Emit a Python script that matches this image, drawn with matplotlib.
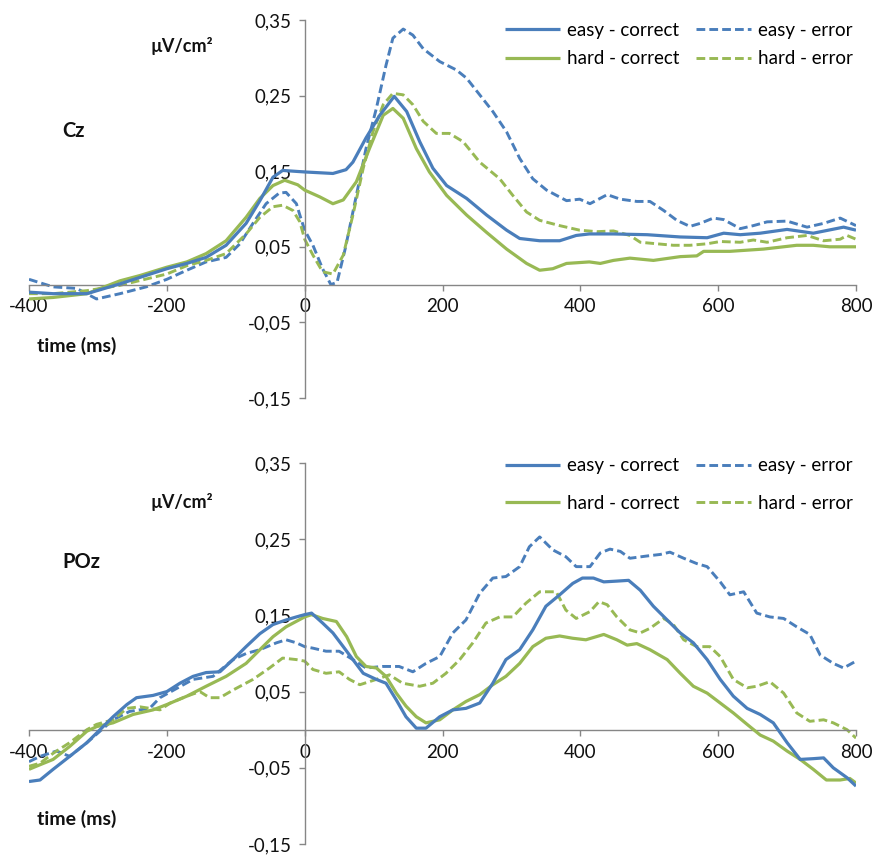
import matplotlib
matplotlib.use("Agg")
import matplotlib.pyplot as plt
from matplotlib.ticker import FuncFormatter

plt.rcParams['font.family'] = ['Lato', 'DejaVu Sans']

# ---------------- Cz ----------------
cz_ec_t = [-400, -365, -316, -268, -200, -171, -143, -114, -85, -65, -46, -32, 0, 41, 60, 70, 89, 109, 130, 148, 167, 186, 206, 235, 264, 293, 312, 341, 370, 394, 413, 448, 497, 545, 584, 608, 632, 661, 700, 738, 782, 800]
cz_ec_v = [-0.010, -0.012, -0.012, 0.001, 0.021, 0.028, 0.036, 0.052, 0.081, 0.111, 0.142, 0.151, 0.149, 0.147, 0.152, 0.162, 0.194, 0.224, 0.249, 0.229, 0.189, 0.154, 0.131, 0.114, 0.092, 0.072, 0.061, 0.058, 0.058, 0.065, 0.067, 0.067, 0.066, 0.063, 0.062, 0.068, 0.066, 0.068, 0.073, 0.068, 0.076, 0.072]

cz_ee_t = [-400, -365, -331, -302, -268, -230, -200, -171, -143, -114, -94, -75, -56, -37, -27, -12, -7, 0, 12, 26, 38, 47, 59, 75, 89, 104, 118, 128, 143, 157, 172, 196, 220, 235, 254, 273, 293, 312, 331, 351, 380, 399, 414, 439, 458, 482, 501, 521, 540, 559, 574, 593, 608, 632, 651, 671, 700, 729, 753, 777, 800]
cz_ee_v = [0.007, -0.003, -0.005, -0.019, -0.012, -0.003, 0.007, 0.019, 0.030, 0.036, 0.054, 0.081, 0.107, 0.121, 0.122, 0.107, 0.092, 0.072, 0.052, 0.021, 0.000, 0.003, 0.048, 0.118, 0.180, 0.233, 0.290, 0.326, 0.338, 0.330, 0.312, 0.295, 0.284, 0.273, 0.251, 0.229, 0.202, 0.167, 0.140, 0.125, 0.111, 0.113, 0.107, 0.119, 0.113, 0.110, 0.110, 0.098, 0.085, 0.077, 0.081, 0.088, 0.086, 0.074, 0.078, 0.083, 0.084, 0.076, 0.081, 0.088, 0.078]

cz_hc_t = [-400, -365, -316, -268, -239, -200, -171, -143, -114, -85, -65, -46, -29, -10, 0, 22, 41, 56, 75, 94, 114, 128, 143, 162, 181, 206, 235, 264, 293, 322, 341, 360, 380, 413, 429, 448, 472, 506, 545, 569, 579, 617, 666, 714, 738, 762, 800]
cz_hc_v = [-0.019, -0.017, -0.012, 0.005, 0.012, 0.023, 0.030, 0.041, 0.058, 0.089, 0.114, 0.131, 0.138, 0.132, 0.125, 0.116, 0.107, 0.112, 0.136, 0.180, 0.224, 0.233, 0.220, 0.180, 0.149, 0.118, 0.092, 0.069, 0.047, 0.028, 0.019, 0.021, 0.028, 0.030, 0.028, 0.032, 0.035, 0.032, 0.037, 0.038, 0.044, 0.044, 0.047, 0.052, 0.052, 0.050, 0.050]

cz_he_t = [-400, -365, -316, -268, -200, -171, -143, -114, -85, -65, -46, -32, -17, -7, 0, 12, 26, 41, 56, 70, 85, 99, 114, 128, 143, 157, 172, 191, 210, 230, 254, 283, 302, 322, 341, 370, 399, 424, 448, 472, 487, 511, 535, 559, 584, 603, 632, 651, 671, 700, 729, 753, 777, 787, 800]
cz_he_v = [-0.012, -0.012, -0.008, -0.001, 0.014, 0.025, 0.032, 0.041, 0.067, 0.089, 0.103, 0.105, 0.098, 0.083, 0.060, 0.039, 0.017, 0.014, 0.039, 0.092, 0.154, 0.202, 0.238, 0.253, 0.251, 0.238, 0.216, 0.200, 0.200, 0.189, 0.162, 0.140, 0.118, 0.096, 0.085, 0.078, 0.072, 0.070, 0.071, 0.065, 0.056, 0.054, 0.052, 0.052, 0.054, 0.057, 0.056, 0.059, 0.056, 0.062, 0.065, 0.058, 0.060, 0.065, 0.060]

# ---------------- POz ----------------
poz_ec_t = [-400, -384, -365, -341, -316, -297, -278, -258, -244, -220, -200, -181, -162, -143, -123, -104, -85, -65, -46, -27, -12, 0, 10, 26, 41, 56, 70, 85, 104, 118, 133, 147, 162, 176, 196, 215, 234, 254, 273, 292, 312, 331, 350, 370, 389, 403, 419, 434, 453, 470, 487, 506, 526, 545, 564, 584, 603, 622, 642, 661, 680, 700, 719, 738, 753, 767, 787, 800]
poz_ec_v = [-0.068, -0.066, -0.052, -0.035, -0.017, 0.000, 0.017, 0.033, 0.042, 0.045, 0.050, 0.061, 0.070, 0.075, 0.076, 0.092, 0.109, 0.126, 0.138, 0.144, 0.148, 0.151, 0.153, 0.140, 0.127, 0.109, 0.092, 0.074, 0.066, 0.061, 0.039, 0.017, 0.002, 0.002, 0.017, 0.026, 0.028, 0.035, 0.061, 0.092, 0.105, 0.131, 0.162, 0.177, 0.192, 0.199, 0.199, 0.194, 0.195, 0.196, 0.183, 0.162, 0.144, 0.127, 0.114, 0.092, 0.066, 0.044, 0.028, 0.020, 0.009, -0.017, -0.039, -0.038, -0.037, -0.050, -0.063, -0.074]

poz_ee_t = [-400, -384, -360, -341, -316, -297, -278, -254, -225, -210, -190, -162, -133, -104, -85, -65, -41, -27, -12, 0, 12, 31, 50, 70, 89, 113, 137, 157, 176, 196, 215, 234, 254, 273, 292, 312, 326, 341, 360, 379, 394, 414, 429, 443, 458, 472, 497, 516, 530, 550, 569, 584, 603, 617, 637, 656, 675, 695, 714, 733, 748, 767, 782, 800]
poz_ee_v = [-0.042, -0.035, -0.028, -0.035, -0.017, -0.002, 0.013, 0.024, 0.028, 0.042, 0.052, 0.066, 0.070, 0.092, 0.100, 0.105, 0.114, 0.118, 0.114, 0.109, 0.107, 0.103, 0.103, 0.092, 0.081, 0.083, 0.083, 0.076, 0.087, 0.096, 0.127, 0.144, 0.179, 0.199, 0.201, 0.214, 0.240, 0.253, 0.236, 0.227, 0.214, 0.214, 0.232, 0.237, 0.234, 0.225, 0.228, 0.230, 0.233, 0.225, 0.218, 0.214, 0.194, 0.177, 0.181, 0.153, 0.148, 0.146, 0.135, 0.125, 0.098, 0.087, 0.081, 0.090]

poz_hc_t = [-400, -384, -365, -341, -316, -302, -278, -249, -220, -200, -171, -143, -114, -85, -65, -46, -27, 0, 10, 26, 46, 61, 75, 89, 104, 118, 133, 147, 162, 176, 196, 215, 234, 254, 273, 292, 312, 331, 350, 370, 389, 408, 434, 453, 468, 482, 501, 526, 545, 564, 584, 603, 622, 642, 661, 680, 700, 719, 738, 757, 777, 791, 800]
poz_hc_v = [-0.052, -0.046, -0.039, -0.022, -0.002, 0.004, 0.009, 0.020, 0.026, 0.033, 0.044, 0.057, 0.070, 0.087, 0.105, 0.122, 0.135, 0.148, 0.151, 0.146, 0.142, 0.122, 0.096, 0.083, 0.081, 0.070, 0.048, 0.031, 0.017, 0.009, 0.013, 0.026, 0.037, 0.046, 0.059, 0.070, 0.087, 0.109, 0.120, 0.123, 0.120, 0.118, 0.125, 0.118, 0.111, 0.113, 0.105, 0.092, 0.074, 0.057, 0.048, 0.035, 0.022, 0.007, -0.007, -0.015, -0.028, -0.039, -0.052, -0.066, -0.066, -0.064, -0.070]

poz_he_t = [-400, -384, -365, -341, -316, -302, -278, -258, -239, -210, -195, -171, -152, -138, -123, -104, -75, -51, -32, -12, 0, 12, 31, 50, 65, 80, 104, 123, 142, 167, 186, 205, 225, 244, 263, 283, 302, 321, 341, 365, 379, 394, 414, 427, 439, 453, 472, 487, 501, 521, 535, 550, 569, 588, 603, 622, 642, 656, 675, 695, 714, 733, 753, 767, 787, 800]
poz_he_v = [-0.048, -0.044, -0.031, -0.017, 0.000, 0.007, 0.013, 0.028, 0.030, 0.026, 0.035, 0.044, 0.050, 0.042, 0.042, 0.052, 0.066, 0.081, 0.094, 0.092, 0.090, 0.079, 0.074, 0.076, 0.066, 0.059, 0.066, 0.072, 0.061, 0.057, 0.061, 0.074, 0.092, 0.114, 0.140, 0.148, 0.148, 0.166, 0.181, 0.181, 0.157, 0.146, 0.155, 0.168, 0.164, 0.148, 0.131, 0.127, 0.133, 0.146, 0.138, 0.118, 0.109, 0.109, 0.096, 0.066, 0.055, 0.057, 0.063, 0.048, 0.022, 0.011, 0.013, 0.009, 0.000, -0.011]

series_labels = ["easy - correct", "hard - correct", "easy - error", "hard - error"]
x_ticks = [-400, -200, 0, 200, 400, 600, 800]
y_ticks = [-0.15, -0.05, 0.05, 0.15, 0.25, 0.35]

BLUE = "#4a7ebb"
GREEN = "#98b954"
AXIS_GREY = "#868686"
DASH = (0, (3.0, 1.4))

W, H = 875, 856
fig = plt.figure(figsize=(W / 100, H / 100), dpi=100)


def px_axes(left, top, right, bottom):
    return fig.add_axes([left / W, 1 - bottom / H, (right - left) / W, (bottom - top) / H])


def decimal_comma(v, _pos):
    if abs(v) < 1e-9:
        return "0"
    return f"{v:.2f}".replace(".", ",")


def draw_panel(ax, data, label_spacing, legend_y):
    (ec_t, ec_v), (hc_t, hc_v), (ee_t, ee_v), (he_t, he_v) = data
    h_ec, = ax.plot(ec_t, ec_v, color=BLUE, lw=2.3, solid_capstyle='butt', zorder=4)
    h_hc, = ax.plot(hc_t, hc_v, color=GREEN, lw=2.3, solid_capstyle='butt', zorder=3)
    h_ee, = ax.plot(ee_t, ee_v, color=BLUE, lw=2.1, linestyle=DASH, zorder=2)
    h_he, = ax.plot(he_t, he_v, color=GREEN, lw=2.1, linestyle=DASH, zorder=2)

    ax.set_xlim(-400, 800)
    ax.set_ylim(-0.15, 0.35)
    for side in ("top", "right"):
        ax.spines[side].set_visible(False)
    ax.spines["left"].set_position(("data", 0))
    ax.spines["bottom"].set_position(("data", 0))
    for side in ("left", "bottom"):
        ax.spines[side].set_color(AXIS_GREY)
        ax.spines[side].set_linewidth(1.0)
    ax.set_xticks(x_ticks)
    ax.set_yticks(y_ticks)
    ax.yaxis.set_major_formatter(FuncFormatter(decimal_comma))
    ax.xaxis.set_major_formatter(FuncFormatter(lambda v, p: f"{int(v)}"))
    ax.tick_params(axis="y", direction="out", length=4.5, width=1.0, color=AXIS_GREY,
                   labelsize=13.5, pad=5, labelcolor="#111111")
    ax.tick_params(axis="x", direction="out", length=4, width=1.0, color=AXIS_GREY,
                   labelsize=13.5, pad=6, labelcolor="#111111")
    ax.patch.set_visible(False)

    ax.legend([h_ec, h_hc, h_ee, h_he], series_labels, ncol=2, frameon=False,
              loc="upper right", bbox_to_anchor=(1.012, legend_y), fontsize=13.5,
              handlelength=2.95, handletextpad=0.35, columnspacing=0.9,
              labelspacing=label_spacing, borderpad=0.2)


ax_top = px_axes(29, 20, 856, 398)
draw_panel(ax_top, [(cz_ec_t, cz_ec_v), (cz_hc_t, cz_hc_v), (cz_ee_t, cz_ee_v), (cz_he_t, cz_he_v)], 0.62, 1.03)

ax_bot = px_axes(29, 463, 856, 844)
draw_panel(ax_bot, [(poz_ec_t, poz_ec_v), (poz_hc_t, poz_hc_v), (poz_ee_t, poz_ee_v), (poz_he_t, poz_he_v)], 1.1, 1.05)


def px_text(x, y, s, size):
    fig.text(x / W, 1 - y / H, s, ha="left", va="center", fontsize=size,
             fontweight="bold", color="#111111")


px_text(150, 46, "µV/cm²", 13)
px_text(62, 131, "Cz", 14.5)
px_text(37, 346, "time (ms)", 14)

px_text(150, 502, "µV/cm²", 13)
px_text(62, 562, "POz", 14.5)
px_text(37, 819, "time (ms)", 14)

fig.savefig("out.png", dpi=100)
